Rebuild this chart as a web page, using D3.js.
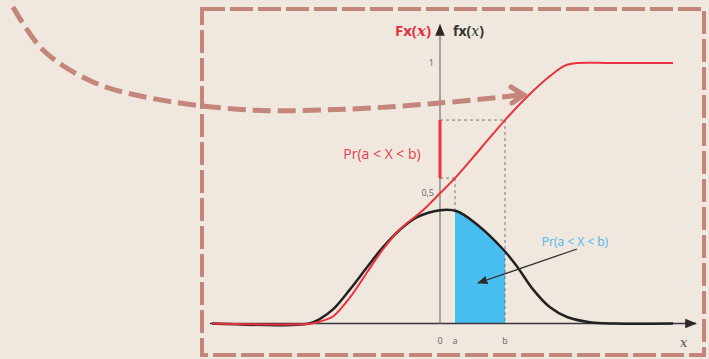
<!DOCTYPE html>
<html>
<head>
<meta charset="utf-8">
<script src="https://cdn.jsdelivr.net/npm/d3@7"></script>
<style>
  body { margin: 0; background: #f0e7de; }
  svg { display: block; }
</style>
</head>
<body>
<div id="chart"></div>
<script>
// density f(x)
var densX = [-4.56, -2.62, -2.4, -2.14, -1.8, -1.46, -1.14, -0.8, -0.46, 0, 0.34, 0.74, 1.26, 1.54, 1.86, 2.2, 2.54, 3.0, 3.5, 4.66];
var densY = [0, 0, 0.018, 0.054, 0.131, 0.216, 0.293, 0.36, 0.408, 0.435, 0.431, 0.38, 0.285, 0.219, 0.131, 0.062, 0.025, 0.005, 0, 0];

// cumulative F(x)
var cdfX = [-4.56, -2.56, -2.36, -2.14, -1.8, -1.46, -1.14, -0.8, -0.34, 0, 0.3, 0.8, 1.3, 1.8, 2.2, 2.5, 2.76, 3.4, 4.66];
var cdfY = [0, 0, 0.01, 0.027, 0.1, 0.196, 0.285, 0.362, 0.435, 0.5, 0.558, 0.669, 0.781, 0.881, 0.95, 0.99, 1, 1, 1];

var aVal = 0.3, bVal = 1.3;
var Fa = 0.558, Fb = 0.781;
var xTickLabels = [{v: 0, t: "0"}, {v: aVal, t: "a"}, {v: bVal, t: "b"}];
var yTickLabels = [{v: 1, t: "1"}, {v: 0.5, t: "0,5"}];
var probLabel = "Pr(a < X < b)";

var W = 709, H = 359;
var svg = d3.select("#chart").append("svg")
    .attr("width", W).attr("height", H);

svg.append("rect").attr("width", W).attr("height", H).attr("fill", "#f0e7de");

var x = d3.scaleLinear().domain([-4.6, 5.06]).range([210, 693]);
var y = d3.scaleLinear().domain([0, 1]).range([323.5, 63]);

var dens = densX.map(function(d, i) { return [d, densY[i]]; });
var cdf = cdfX.map(function(d, i) { return [d, cdfY[i]]; });
var smooth = d3.curveCatmullRom.alpha(0.5);

var defs = svg.append("defs");
defs.append("clipPath").attr("id", "abclip")
  .append("rect")
    .attr("x", x(aVal)).attr("y", 0)
    .attr("width", x(bVal) - x(aVal)).attr("height", y(0));
defs.append("marker").attr("id", "tri")
    .attr("viewBox", "0 0 10 10").attr("refX", 9).attr("refY", 5)
    .attr("markerWidth", 8).attr("markerHeight", 8).attr("orient", "auto")
  .append("path").attr("d", "M0,1L10,5L0,9Z").attr("fill", "#2a2a2a");

// dashed frame
svg.append("rect")
    .attr("x", 202).attr("y", 9).attr("width", 502).attr("height", 346)
    .attr("fill", "none").attr("stroke", "#c4857a").attr("stroke-width", 4)
    .attr("stroke-dasharray", "23,5");

// shaded area between a and b
svg.append("path").datum(dens)
    .attr("clip-path", "url(#abclip)")
    .attr("fill", "#47bdf0")
    .attr("d", d3.area().curve(smooth)
        .x(function(d) { return x(d[0]); })
        .y0(y(0)).y1(function(d) { return y(d[1]); }));

// guides
var guide = svg.append("g").attr("stroke", "#777").attr("stroke-width", 1)
    .attr("stroke-dasharray", "3,3").attr("fill", "none");
guide.append("line").attr("x1", x(0)).attr("x2", x(bVal)).attr("y1", y(Fb)).attr("y2", y(Fb));
guide.append("line").attr("x1", x(bVal)).attr("x2", x(bVal)).attr("y1", y(Fb)).attr("y2", y(0));
guide.append("line").attr("x1", x(0)).attr("x2", x(aVal)).attr("y1", y(Fa)).attr("y2", y(Fa));
guide.append("line").attr("x1", x(aVal)).attr("x2", x(aVal)).attr("y1", y(Fa)).attr("y2", y(0.43));

// axes
svg.append("line")
    .attr("x1", 210).attr("x2", 696).attr("y1", y(0)).attr("y2", y(0))
    .attr("stroke", "#3a3440").attr("stroke-width", 1.5)
    .attr("marker-end", "url(#tri)");
svg.append("line")
    .attr("x1", x(0)).attr("x2", x(0)).attr("y1", y(0)).attr("y2", 25)
    .attr("stroke", "#8c8c8c").attr("stroke-width", 1.5)
    .attr("marker-end", "url(#tri)");

// curves
svg.append("path").datum(dens)
    .attr("fill", "none").attr("stroke", "#222").attr("stroke-width", 2.5)
    .attr("d", d3.line().curve(smooth)
        .x(function(d) { return x(d[0]); })
        .y(function(d) { return y(d[1]); }));
svg.append("path").datum(cdf)
    .attr("fill", "none").attr("stroke", "#e8333f").attr("stroke-width", 2)
    .attr("d", d3.line().curve(smooth)
        .x(function(d) { return x(d[0]); })
        .y(function(d) { return y(d[1]); }));

// red segment on the axis: F(b) - F(a)
svg.append("line")
    .attr("x1", x(0)).attr("x2", x(0)).attr("y1", y(Fb)).attr("y2", y(Fa))
    .attr("stroke", "#e8333f").attr("stroke-width", 3);

// labels
var font = "'Open Sans', 'Liberation Sans', sans-serif";
svg.selectAll(".xt").data(xTickLabels).enter().append("text")
    .attr("x", function(d) { return x(d.v); }).attr("y", 344)
    .attr("text-anchor", "middle").attr("font-family", font)
    .attr("font-size", 9).attr("fill", "#666")
    .text(function(d) { return d.t; });
svg.selectAll(".yt").data(yTickLabels).enter().append("text")
    .attr("x", x(0) - 6).attr("y", function(d) { return y(d.v) + 3; })
    .attr("text-anchor", "end").attr("font-family", font)
    .attr("font-size", 9).attr("fill", "#666")
    .text(function(d) { return d.t; });

svg.append("text").attr("x", 680).attr("y", 347)
    .attr("font-family", "'DejaVu Serif', serif").attr("font-style", "italic")
    .attr("font-size", 13).attr("fill", "#555").text("x");

var fl = svg.append("text").attr("x", 431).attr("y", 36).attr("text-anchor", "end")
    .attr("font-family", font).attr("font-size", 15).attr("font-weight", "bold")
    .attr("fill", "#e0323e");
fl.append("tspan").text("Fx(");
fl.append("tspan").attr("font-family", "'DejaVu Serif', serif").attr("font-style", "italic").text("x");
fl.append("tspan").text(")");

var fd = svg.append("text").attr("x", 453).attr("y", 36)
    .attr("font-family", font).attr("font-size", 14).attr("font-weight", "bold")
    .attr("fill", "#333");
fd.append("tspan").text("fx(");
fd.append("tspan").attr("font-family", "'DejaVu Serif', serif").attr("font-style", "italic")
    .attr("font-weight", "normal").text("x");
fd.append("tspan").text(")");

svg.append("text").attr("x", 382).attr("y", 159).attr("text-anchor", "middle")
    .attr("font-family", font).attr("font-size", 14).attr("fill", "#e0404c")
    .text(probLabel);
svg.append("text").attr("x", 575).attr("y", 246).attr("text-anchor", "middle")
    .attr("font-family", font).attr("font-size", 12).attr("fill", "#48b8ec")
    .text(probLabel);

svg.append("line")
    .attr("x1", 577).attr("y1", 249).attr("x2", 478).attr("y2", 283)
    .attr("stroke", "#333").attr("stroke-width", 1.3)
    .attr("marker-end", "url(#tri)");

// big dashed curved arrow
var arcPts = [[13, 7], [43, 50], [93, 82], [150, 98], [250, 110], [350, 109], [440, 103], [521, 95]];
svg.append("path").datum(arcPts)
    .attr("fill", "none").attr("stroke", "#c4857a").attr("stroke-width", 5)
    .attr("stroke-dasharray", "18,7")
    .attr("d", d3.line().curve(d3.curveCatmullRom)(arcPts));
svg.append("path")
    .attr("d", d3.line()([[511, 87], [524, 95], [512, 103]]))
    .attr("fill", "none").attr("stroke", "#c4857a").attr("stroke-width", 5)
    .attr("stroke-linecap", "round");
</script>
</body>
</html>
